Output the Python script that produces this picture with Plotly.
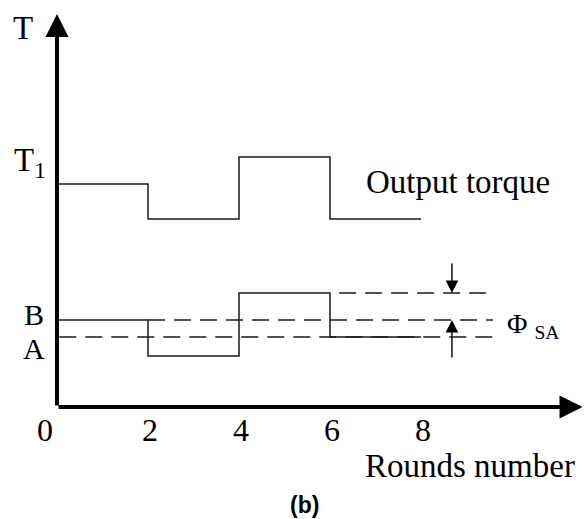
import plotly.graph_objects as go

# ---- data (y in arbitrary torque units, x in rounds) ----
rounds = [0, 2, 4, 6, 8]
output_torque = [22.3, 18.8, 25.0, 18.8]
lower_torque = [8.7, 5.1, 11.4, 7.0]
level_B = 8.7
level_A = 7.0
level_upper = 11.4
dash_end = 9.58
x_ticks = [0, 2, 4, 6, 8]
x_tick_labels = ["0", "2", "4", "6", "8"]
y_axis_top = 39.3
x_axis_end = 11.55

FONT = "Liberation Serif"
LINE = "#1a1a1a"

fig = go.Figure()

def step(vals):
    return vals + [vals[-1]]

fig.add_trace(go.Scatter(x=rounds, y=step(output_torque), mode="lines",
                         line=dict(color=LINE, width=1.5, shape="hv"), hoverinfo="skip"))
fig.add_trace(go.Scatter(x=rounds, y=step(lower_torque), mode="lines",
                         line=dict(color=LINE, width=1.5, shape="hv"), hoverinfo="skip"))

# dashed reference levels
dash_style = dict(color=LINE, width=1.5, dash="17px,9px")
fig.add_trace(go.Scatter(x=[rounds[1], dash_end], y=[level_B, level_B], mode="lines",
                         line=dash_style, hoverinfo="skip"))
fig.add_trace(go.Scatter(x=[0.05, dash_end], y=[level_A, level_A], mode="lines",
                         line=dash_style, hoverinfo="skip"))
fig.add_trace(go.Scatter(x=[rounds[3] + 0.2, dash_end], y=[level_upper, level_upper], mode="lines",
                         line=dash_style, hoverinfo="skip"))

ann = []
# axes with arrows
ann.append(dict(x=0, y=y_axis_top, ax=0, ay=0, xref="x", yref="y", axref="x", ayref="y",
                text="", showarrow=True, arrowhead=2, arrowwidth=4, arrowsize=1.15,
                arrowcolor="black", standoff=0))
ann.append(dict(x=x_axis_end, y=0, ax=0, ay=0, xref="x", yref="y", axref="x", ayref="y",
                text="", showarrow=True, arrowhead=2, arrowwidth=4, arrowsize=1.15,
                arrowcolor="black", standoff=0))
# small measurement arrows
arrow_x = 8.68
ann.append(dict(x=arrow_x, y=level_upper, ax=arrow_x, ay=14.5, xref="x", yref="y", axref="x", ayref="y",
                text="", showarrow=True, arrowhead=2, arrowwidth=1.4, arrowsize=1.8,
                arrowcolor="black", standoff=0))
ann.append(dict(x=arrow_x, y=level_B, ax=arrow_x, ay=4.8, xref="x", yref="y", axref="x", ayref="y",
                text="", showarrow=True, arrowhead=2, arrowwidth=1.4, arrowsize=1.8,
                arrowcolor="black", standoff=0))

txt = dict(family=FONT, size=33, color="black")
# tick labels
for xv, lab in zip(x_ticks, x_tick_labels):
    ann.append(dict(x=xv, y=-2.3, xref="x", yref="y", text=lab, showarrow=False,
                    font=dict(family=FONT, size=32, color="black"),
                    xanchor="center", yanchor="middle",
                    xshift=-12 if xv == 0 else 1.5))
ann.append(dict(x=6.73, y=-5.9, xref="x", yref="y", text="Rounds number", showarrow=False,
                font=txt, xanchor="left", yanchor="middle"))
ann.append(dict(x=-0.75, y=37.9, xref="x", yref="y", text="T", showarrow=False,
                font=txt, xanchor="center", yanchor="middle"))
ann.append(dict(x=-0.98, y=24.5, xref="x", yref="y", text="T<sub>1</sub>", showarrow=False,
                font=txt, xanchor="left", yanchor="middle"))
ann.append(dict(x=-0.5, y=9.3, xref="x", yref="y", text="B", showarrow=False,
                font=dict(family=FONT, size=30, color="black"), xanchor="center", yanchor="middle"))
ann.append(dict(x=-0.5, y=5.9, xref="x", yref="y", text="A", showarrow=False,
                font=dict(family=FONT, size=30, color="black"), xanchor="center", yanchor="middle"))
ann.append(dict(x=6.75, y=22.5, xref="x", yref="y", text="Output torque", showarrow=False,
                font=txt, xanchor="left", yanchor="middle"))
ann.append(dict(x=9.85, y=8.2, xref="x", yref="y", text="Φ <sub>SA</sub>", showarrow=False,
                font=dict(family=FONT, size=28, color="black"), xanchor="left", yanchor="middle"))
ann.append(dict(x=5.45, y=-9.8, xref="x", yref="y", text="<b>(b)</b>", showarrow=False,
                font=dict(family="Liberation Sans", size=23, color="black"),
                xanchor="center", yanchor="middle"))

fig.update_layout(
    width=585, height=519,
    margin=dict(l=0, r=0, t=0, b=0),
    paper_bgcolor="white", plot_bgcolor="white",
    showlegend=False,
    annotations=ann,
    xaxis=dict(range=[-57 / 45.5, (585 - 57) / 45.5], visible=False, fixedrange=True),
    yaxis=dict(range=[(407 - 519) / 10, 407 / 10], visible=False, fixedrange=True),
)

fig.write_html("out.html")
